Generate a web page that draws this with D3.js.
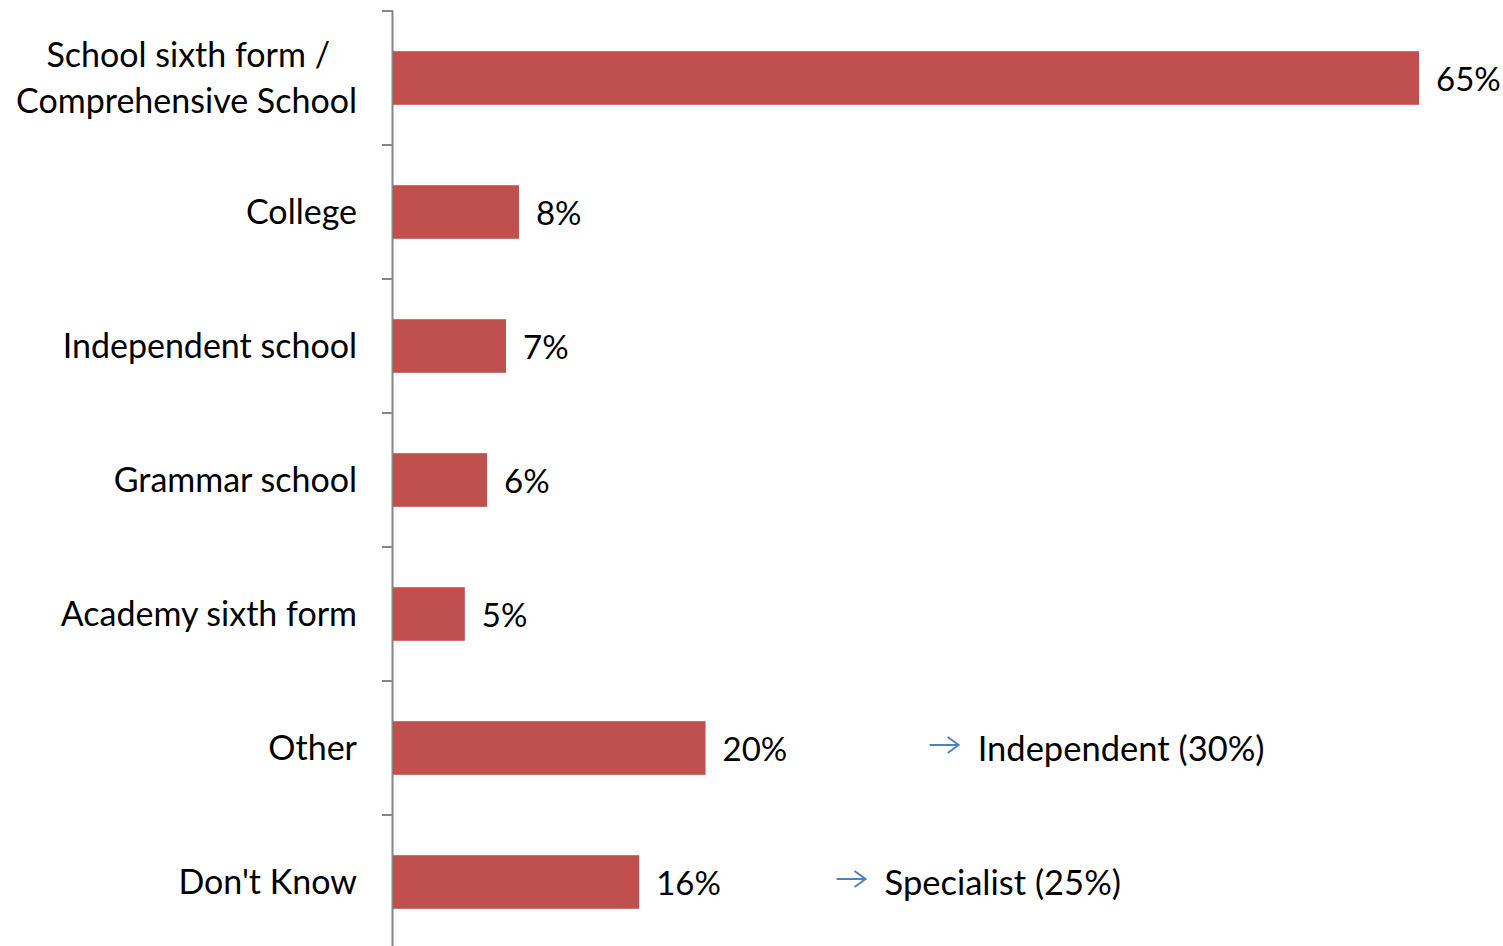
<!DOCTYPE html>
<html>
<head>
<meta charset="utf-8">
<script src="https://cdn.jsdelivr.net/npm/d3@7"></script>
<style>
    html, body { margin: 0; padding: 0; background: #fff; }
    svg text { font-family: Lato, "Open Sans", sans-serif; fill: #000; }
</style>
</head>
<body>
<div id="chart"></div>
<script>
// Datos
let categories = ['School sixth form / Comprehensive School', 'College', 'Independent school', 'Grammar school', 'Academy sixth form', 'Other', "Don't Know"];
let values = [65, 7.98, 7.16, 5.96, 4.55, 19.8, 15.6];
let valueLabels = ['65%', '8%', '7%', '6%', '5%', '20%', '16%'];
let labelLines = [['School sixth form /', 'Comprehensive School'], ['College'], ['Independent school'], ['Grammar school'], ['Academy sixth form'], ['Other'], ["Don't Know"]];
let noteCategories = ['Other', "Don't Know"];
let noteTexts = ['Independent (30%)', 'Specialist (25%)'];

let width = 1503;
let height = 946;
let margin = {top: 11, right: 84, bottom: -3, left: 393};

initChart();

function initChart() {
    let svg = d3.select('#chart').append('svg')
        .attr('width', width)
        .attr('height', height);

    let x = d3.scaleLinear()
        .domain([0, 65])
        .range([margin.left, width - margin.right]);

    let y = d3.scaleBand()
        .domain(categories)
        .range([margin.top, height - margin.bottom])
        .padding(0);

    let barH = y.bandwidth() * 0.4;

    //Eje
    let axis = svg.append('g')
        .attr('transform', 'translate(' + (margin.left - 0.5) + ',0)')
        .call(d3.axisLeft(y).tickSize(0).tickFormat(''));
    axis.select('.domain').attr('stroke', '#868686').attr('stroke-width', 2).attr('d', 'M0,' + y.range()[0] + 'V' + height);
    axis.selectAll('.tick').remove();

    //Ticks en los bordes de las bandas
    let edges = categories.map(d => y(d));
    svg.append('g')
        .selectAll('line')
        .data(edges)
        .enter()
        .append('line')
        .attr('x1', margin.left - 11)
        .attr('x2', margin.left)
        .attr('y1', d => d)
        .attr('y2', d => d)
        .attr('stroke', '#868686')
        .attr('stroke-width', 2);

    //Barras
    svg.append('g')
        .selectAll('rect')
        .data(categories)
        .enter()
        .append('rect')
        .attr('x', x(0))
        .attr('y', d => y(d) + y.bandwidth() / 2 - barH / 2)
        .attr('width', (d, i) => x(values[i]) - x(0))
        .attr('height', barH)
        .attr('fill', '#c0504d');

    //Valores
    svg.append('g')
        .selectAll('text')
        .data(categories)
        .enter()
        .append('text')
        .attr('x', (d, i) => x(values[i]) + 17)
        .attr('y', d => y(d) + y.bandwidth() / 2)
        .attr('dy', '0.38em')
        .style('font-size', '33px')
        .text((d, i) => valueLabels[i]);

    //Etiquetas
    let labels = svg.append('g')
        .selectAll('text')
        .data(categories)
        .enter()
        .append('text')
        .attr('text-anchor', 'end')
        .style('font-size', '34px')
        .attr('y', d => y(d) + y.bandwidth() / 2);

    labels.each(function(d, i) {
        let lines = labelLines[i];
        let sel = d3.select(this);
        lines.forEach(function(line, j) {
            sel.append('tspan')
                .attr('x', j == 0 && lines.length > 1 ? margin.left - 63 : margin.left - 36)
                .attr('dy', j == 0 ? (lines.length > 1 ? '-0.31em' : '0.34em') : '1.35em')
                .text(line);
        });
    });

    //Notas con flecha
    let noteX = [x(34), x(28.1)];
    let notes = svg.append('g')
        .selectAll('g')
        .data(noteCategories)
        .enter()
        .append('g')
        .attr('transform', (d, i) => 'translate(' + noteX[i] + ',' + (y(d) + y.bandwidth() / 2) + ')');

    notes.append('path')
        .attr('d', 'M0,-3H28M18,-11L29,-3L18,5')
        .attr('fill', 'none')
        .attr('stroke', '#4f81bd')
        .attr('stroke-width', 2);

    notes.append('text')
        .attr('x', 48)
        .attr('dy', '0.38em')
        .style('font-size', '34.5px')
        .text((d, i) => noteTexts[i]);
}
</script>
</body>
</html>
